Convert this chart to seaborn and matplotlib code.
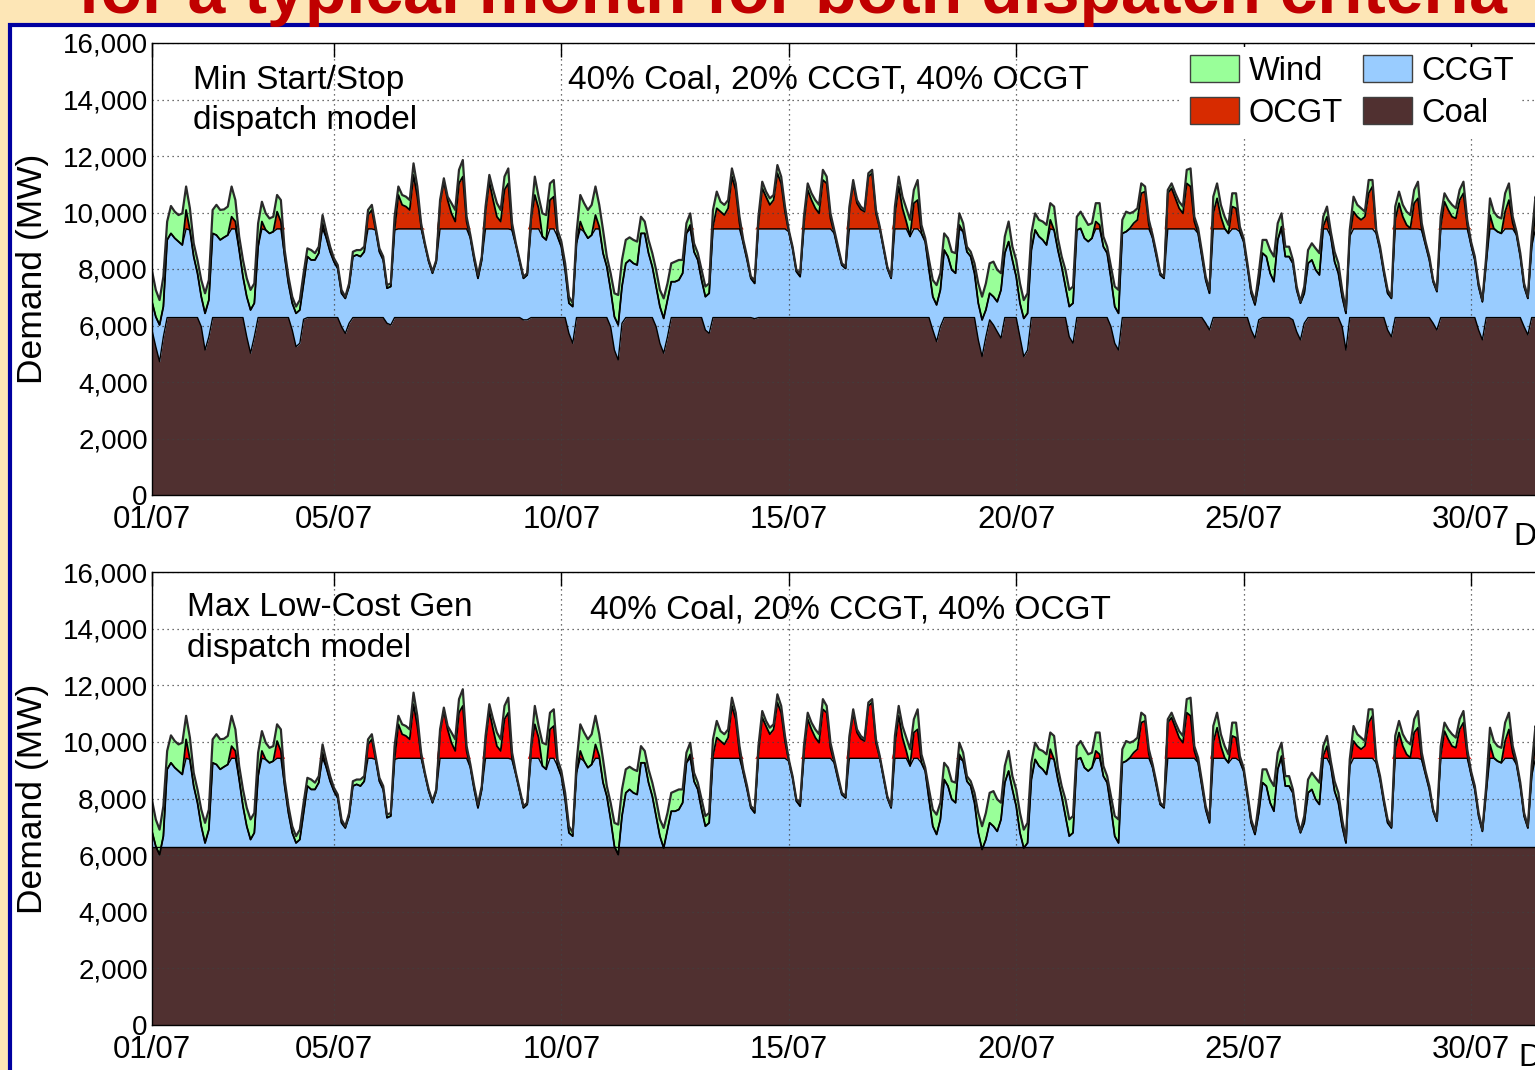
import numpy as np
import matplotlib
matplotlib.use("Agg")
import matplotlib.pyplot as plt
from matplotlib.patches import Patch, Rectangle
from matplotlib.ticker import FuncFormatter, FixedLocator
import seaborn as sns

# ---------------- data (2-hourly, MW) ----------------
demand = [
    7940, 7260, 6900, 7730, 9680, 10230, 10030, 9910, 9970, 10920, 10150, 8910,
    8320, 7610, 7140, 7610, 10090, 10270, 10090, 10110, 10210, 10920, 10440, 9150,
    8320, 7670, 7260, 7490, 9620, 10380, 9970, 9790, 9850, 10620, 10440, 8670,
    7730, 7020, 6670, 6900, 7850, 8730, 8670, 8560, 8790, 9910, 9320, 8790,
    8380, 8140, 7260, 7020, 7490, 8610, 8670, 8670, 8790, 10090, 10270, 9500,
    8730, 8440, 7430, 7490, 9850, 10920, 10620, 10560, 10440, 11740, 10920, 9620,
    8910, 8320, 7910, 8320, 10440, 11210, 10560, 10330, 10090, 11510, 11860, 9850,
    9200, 8440, 7790, 8440, 10210, 11330, 10800, 10330, 10090, 11270, 11560, 9620,
    8910, 8320, 7730, 7850, 9850, 11270, 10560, 9970, 9910, 11030, 11150, 9380,
    8970, 8200, 7020, 6790, 9260, 10620, 10330, 10090, 10270, 10920, 10270, 9380,
    8440, 7850, 7140, 7080, 8320, 9030, 9120, 9030, 8970, 9850, 9680, 9030,
    8560, 7970, 7260, 6960, 7490, 8200, 8260, 8320, 8320, 9620, 9970, 8910,
    8560, 7970, 7380, 7490, 10090, 10740, 10380, 10270, 10440, 11560, 11030, 9850,
    9030, 8440, 7730, 7610, 9850, 11090, 10740, 10500, 10620, 11680, 11270, 10210,
    9380, 8790, 7970, 7850, 9850, 11030, 10680, 10440, 10270, 11510, 11270, 9970,
    9380, 8790, 8200, 8080, 10210, 11150, 10440, 10210, 10090, 11390, 11510, 10090,
    9500, 8790, 8080, 7730, 10210, 11270, 10560, 10150, 9740, 10800, 11150, 9560,
    9090, 8320, 7610, 7430, 7850, 9260, 9090, 8610, 8560, 9970, 9620, 8790,
    8610, 8200, 7490, 7020, 7490, 8200, 8260, 7970, 7850, 9150, 9680, 8790,
    8320, 7490, 6900, 7140, 9260, 9970, 9740, 9680, 9560, 10330, 10210, 9090,
    8440, 7970, 7260, 7380, 9850, 10030, 9790, 9560, 9620, 10330, 10330, 9150,
    8790, 8080, 7380, 7260, 9740, 10030, 9970, 10030, 10150, 11030, 10920, 9740,
    9200, 8560, 7850, 7730, 10800, 11030, 10680, 10380, 10210, 11510, 11560, 9850,
    9440, 8610, 7730, 7260, 10560, 11030, 10270, 9850, 9560, 10680, 10680, 9500,
    9090, 8200, 7260, 6840, 7850, 9030, 9030, 8670, 8440, 9620, 9970, 8790,
    8790, 8320, 7380, 6840, 7380, 8670, 8910, 8730, 8560, 9850, 10210, 9320,
    8610, 8200, 7260, 6550, 9380, 10560, 10270, 10150, 10030, 11150, 11150, 9380,
    8790, 7970, 7260, 7020, 10210, 10740, 10270, 10030, 9910, 10800, 11090, 9620,
    8970, 8440, 7610, 7260, 9850, 10680, 10440, 10270, 10150, 10800, 11090, 9740,
    8970, 8440, 7490, 6900, 8440, 10500, 10030, 9850, 9790, 10680, 11030, 9850,
    9320, 8560, 7490, 7020, 9150, 10560, 10090,
]
wind = [
    1100, 950, 880, 1060, 650, 970, 940, 940, 1120, 830, 770, 470,
    470, 590, 710, 710, 830, 1070, 1060, 990, 1010, 1070, 760, 480,
    590, 650, 710, 700, 830, 700, 590, 530, 530, 590, 760, 230,
    240, 230, 240, 350, 360, 290, 350, 240, 230, 290, 230, 180,
    120, 120, 120, 60, 110, 170, 170, 230, 180, 180, 180, 120,
    120, 120, 110, 110, 470, 300, 350, 350, 350, 410, 360, 120,
    60, 60, 60, 60, 110, 120, 120, 360, 410, 480, 590, 170,
    110, 120, 120, 120, 180, 240, 360, 480, 410, 470, 530, 240,
    60, 60, 60, 60, 110, 650, 410, 820, 880, 590, 590, 230,
    180, 230, 230, 120, 350, 940, 1010, 1000, 1070, 1010, 770, 820,
    360, 590, 830, 1060, 940, 830, 800, 830, 830, 590, 420, 470,
    480, 590, 590, 710, 590, 650, 710, 710, 470, 360, 410, 300,
    240, 360, 360, 350, 590, 590, 350, 360, 290, 290, 230, 230,
    120, 120, 60, 120, 230, 230, 180, 230, 180, 290, 240, 180,
    60, 60, 60, 120, 230, 230, 240, 290, 300, 360, 240, 180,
    120, 120, 60, 60, 120, 120, 110, 100, 60, 120, 120, 120,
    60, 60, 60, 60, 300, 350, 410, 470, 590, 470, 710, 300,
    120, 350, 590, 700, 590, 590, 650, 640, 710, 410, 300, 180,
    170, 350, 700, 820, 940, 1060, 1240, 1130, 590, 590, 710, 470,
    590, 700, 650, 710, 590, 590, 590, 650, 710, 590, 830, 420,
    360, 590, 590, 590, 470, 590, 700, 590, 530, 650, 770, 360,
    230, 410, 710, 830, 480, 710, 530, 410, 410, 350, 180, 180,
    110, 120, 60, 60, 120, 170, 180, 230, 240, 480, 640, 170,
    180, 170, 120, 120, 590, 530, 420, 410, 300, 470, 530, 180,
    120, 120, 120, 110, 360, 470, 590, 820, 890, 590, 470, 350,
    350, 120, 120, 50, 240, 470, 590, 760, 770, 350, 360, 170,
    350, 350, 240, 120, 230, 530, 420, 410, 180, 470, 230, 120,
    120, 120, 120, 60, 470, 410, 420, 470, 470, 470, 590, 240,
    120, 120, 60, 60, 350, 300, 350, 420, 360, 360, 410, 180,
    120, 120, 110, 60, 240, 590, 590, 530, 530, 650, 590, 230,
    120, 120, 110, 60, 360, 590, 590,
]
# coal output in the "Min Start/Stop" model (dips at night)
coal_minss = [
    5840, 5250, 4720, 5600, 6280, 6280, 6280, 6280, 6280, 6280, 6280, 6280,
    6280, 5960, 5130, 5600, 6280, 6280, 6280, 6280, 6280, 6280, 6280, 6280,
    6280, 5600, 5020, 5600, 6280, 6280, 6280, 6280, 6280, 6280, 6280, 6280,
    6280, 5840, 5250, 5370, 6220, 6280, 6280, 6280, 6280, 6280, 6280, 6280,
    6280, 6280, 5960, 5720, 6080, 6280, 6280, 6280, 6280, 6280, 6280, 6280,
    6280, 6280, 6080, 6020, 6280, 6280, 6280, 6280, 6280, 6280, 6280, 6280,
    6280, 6280, 6280, 6280, 6280, 6280, 6280, 6280, 6280, 6280, 6280, 6280,
    6280, 6280, 6280, 6280, 6280, 6280, 6280, 6280, 6280, 6280, 6280, 6280,
    6280, 6280, 6200, 6200, 6280, 6280, 6280, 6280, 6280, 6280, 6280, 6280,
    6280, 6280, 5720, 5370, 6280, 6280, 6280, 6280, 6280, 6280, 6280, 6280,
    6280, 5960, 5130, 4780, 6080, 6280, 6280, 6280, 6280, 6280, 6280, 6280,
    6280, 5960, 5370, 5020, 5600, 6280, 6280, 6280, 6280, 6280, 6280, 6280,
    6280, 6280, 5840, 5720, 6280, 6280, 6280, 6280, 6280, 6280, 6280, 6280,
    6280, 6280, 6280, 6240, 6280, 6280, 6280, 6280, 6280, 6280, 6280, 6280,
    6280, 6280, 6280, 6280, 6280, 6280, 6280, 6280, 6280, 6280, 6280, 6280,
    6280, 6280, 6280, 6280, 6280, 6280, 6280, 6280, 6280, 6280, 6280, 6280,
    6280, 6280, 6280, 6280, 6280, 6280, 6280, 6280, 6280, 6280, 6280, 6280,
    6280, 6280, 5840, 5430, 5960, 6280, 6280, 6280, 6280, 6280, 6280, 6280,
    6280, 6280, 5490, 4900, 5600, 6200, 6020, 5780, 5550, 6280, 6280, 6280,
    6280, 5600, 4900, 5130, 6280, 6280, 6280, 6280, 6280, 6280, 6280, 6280,
    6280, 6280, 5600, 5370, 6280, 6280, 6280, 6280, 6280, 6280, 6280, 6280,
    6280, 5960, 5370, 5130, 6280, 6280, 6280, 6280, 6280, 6280, 6280, 6280,
    6280, 6280, 6280, 6280, 6280, 6280, 6280, 6280, 6280, 6280, 6280, 6280,
    6280, 6280, 6080, 5840, 6280, 6280, 6280, 6280, 6280, 6280, 6280, 6280,
    6280, 6280, 5840, 5550, 6200, 6280, 6280, 6280, 6280, 6280, 6280, 6280,
    6280, 6200, 5780, 5490, 6080, 6280, 6280, 6280, 6280, 6280, 6280, 6280,
    6280, 6280, 5960, 5130, 6280, 6280, 6280, 6280, 6280, 6280, 6280, 6280,
    6280, 6280, 5840, 5600, 6280, 6280, 6280, 6280, 6280, 6280, 6280, 6280,
    6280, 6280, 6080, 5840, 6280, 6280, 6280, 6280, 6280, 6280, 6280, 6280,
    6280, 6280, 5840, 5490, 6280, 6280, 6280, 6280, 6280, 6280, 6280, 6280,
    6280, 6280, 5960, 5670, 6280, 6280, 6280,
]
coal_capacity = 6280      # flat coal output, Max Low-Cost Gen model
ccgt_ceiling = 9420       # coal + CCGT capacity
sample_hours = 2

tick_days = [0, 4, 9, 14, 19, 24, 29]
tick_labels = ["01/07", "05/07", "10/07", "15/07", "20/07", "25/07", "30/07"]
y_ticks = list(range(0, 16001, 2000))
legend_labels = ["Wind", "OCGT", "CCGT", "Coal"]
panel_notes = [("Min Start/Stop", "dispatch model"), ("Max Low-Cost Gen", "dispatch model")]
mix_text = "40% Coal, 20% CCGT, 40% OCGT"
title_text = "for a typical month for both dispatch criteria"

# ---------------- styling ----------------
W, H = 1535, 1070
sns.set_style("white")
plt.rcParams["font.family"] = ["Liberation Sans", "DejaVu Sans"]
for k in ["text.color", "axes.labelcolor", "xtick.color", "ytick.color"]:
    plt.rcParams[k] = "black"

C_WIND = "#99FF99"
C_CCGT = "#99CCFF"
C_COAL = "#503030"
C_OCGT_TOP = "#D72B00"
C_OCGT_BOT = "#FF0000"

def fx(px):
    return px / W

def fy(py):
    return 1 - py / H

fig = plt.figure(figsize=(W / 100, H / 100), dpi=100)
fig.patch.set_facecolor("#FDE6B6")

# white slide panel with blue frame
fig.patches.append(Rectangle((fx(9.5), fy(H + 20)), fx(W + 40), (H + 20 - 24.5) / H,
                             transform=fig.transFigure, facecolor="white",
                             edgecolor="#0000A0", linewidth=3, zorder=-10))

fig.text(fx(792), fy(13), title_text, ha="center", va="baseline",
         fontsize=49, fontweight="bold", color="#C00000", zorder=-5,
         family=["Liberation Sans Narrow", "Liberation Sans", "DejaVu Sans"])

t = np.arange(len(demand)) * sample_hours / 24.0
dem = np.array(demand, float)
net = dem - np.array(wind, float)
coal_top = np.array(coal_minss, float)
coal_bot = np.full_like(dem, coal_capacity)

x0, x1 = 152, 1562
panels = [(43, 495, coal_top, C_OCGT_TOP), (572, 1025, coal_bot, C_OCGT_BOT)]
axes = []
for i, (ytop, ybot, coal, c_ocgt) in enumerate(panels):
    ax = fig.add_axes([fx(x0), fy(ybot), (x1 - x0) / W, (ybot - ytop) / H])
    ax.set_zorder(1)
    axes.append(ax)
    ax.set_facecolor("none")
    ccgt_top = np.maximum(np.minimum(net, ccgt_ceiling), coal)
    ax.fill_between(t, 0, coal, color=C_COAL, lw=0, zorder=1)
    ax.fill_between(t, coal, ccgt_top, color=C_CCGT, lw=0, zorder=1)
    ax.fill_between(t, ccgt_ceiling, np.maximum(net, ccgt_ceiling), color=c_ocgt, lw=0, zorder=1)
    ax.fill_between(t, net, dem, color=C_WIND, lw=0, zorder=1.2)
    for y, c, lw in [(coal, "black", 1.0), (np.minimum(net, ccgt_ceiling), "black", 1.0),
                     (net, "black", 1.3), (dem, "#2A2A2A", 1.6)]:
        sns.lineplot(x=t, y=y, ax=ax, color=c, lw=lw, estimator=None, legend=False, zorder=3)

    ax.set_xlim(0, 31)
    ax.set_ylim(0, 16000)
    ax.xaxis.set_major_locator(FixedLocator(tick_days))
    ax.set_xticklabels(tick_labels)
    ax.yaxis.set_major_locator(FixedLocator(y_ticks))
    ax.yaxis.set_major_formatter(FuncFormatter(lambda v, _: f"{int(v):,}"))
    ax.grid(True, linestyle=(0, (1, 3)), color="#404040", linewidth=0.9, zorder=2)
    ax.set_axisbelow(False)
    ax.tick_params(direction="in", length=10, width=1, top=True, right=True,
                   colors="black")
    ax.tick_params(axis="y", labelsize=20, pad=3)
    ax.tick_params(axis="x", labelsize=22.5, pad=7)
    for s in ax.spines.values():
        s.set_color("black")
        s.set_linewidth(1.0)
        s.set_zorder(4)
    ax.set_xlabel("")
    ax.set_ylabel("Demand (MW)", fontsize=25.5, labelpad=10)

# panel annotations
fig.text(fx(193), fy(80), panel_notes[0][0], fontsize=24, va="center", ha="left", zorder=5)
fig.text(fx(193), fy(121), panel_notes[0][1], fontsize=24, va="center", ha="left", zorder=5)
fig.text(fx(568), fy(80), mix_text, fontsize=24, va="center", ha="left", zorder=5)
fig.text(fx(187), fy(607), panel_notes[1][0], fontsize=24, va="center", ha="left", zorder=5)
fig.text(fx(187), fy(648), panel_notes[1][1], fontsize=24, va="center", ha="left", zorder=5)
fig.text(fx(590), fy(610), mix_text, fontsize=24, va="center", ha="left", zorder=5)
fig.text(fx(1513), fy(537), "Date", fontsize=23, va="center", ha="left", zorder=5)
fig.text(fx(1518), fy(1058), "Date", fontsize=23, va="center", ha="left", zorder=5)

handles = [Patch(facecolor=C_WIND, edgecolor="#404040", lw=1),
           Patch(facecolor=C_OCGT_TOP, edgecolor="#404040", lw=1),
           Patch(facecolor=C_CCGT, edgecolor="#404040", lw=1),
           Patch(facecolor=C_COAL, edgecolor="#404040", lw=1)]
leg = axes[0].legend(handles, legend_labels, ncol=2, loc="upper left",
                     bbox_to_anchor=(fx(1182), fy(47)), bbox_transform=fig.transFigure,
                     fontsize=23.5, handlelength=1.5, handleheight=0.9,
                     handletextpad=0.3, columnspacing=0.6, labelspacing=0.3,
                     borderpad=0.25, borderaxespad=0, frameon=True, fancybox=False)
leg.get_frame().set_edgecolor("none")
leg.get_frame().set_facecolor("white")
leg.get_frame().set_alpha(1)
leg.set_zorder(5)

fig.savefig("out.png", dpi=100)
